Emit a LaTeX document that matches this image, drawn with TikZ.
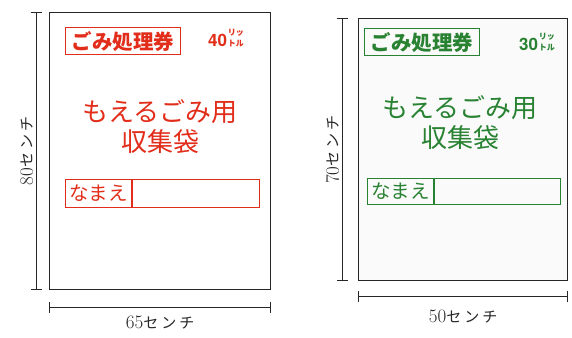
\documentclass[tikz,border=0pt]{standalone}
\usepackage{fontspec}
\newfontfamily\jp{Noto Sans CJK JP}
\newfontfamily\heros{TeX Gyre Heros}
\usetikzlibrary{arrows.meta}

\definecolor{tagred}{RGB}{225,45,25}
\definecolor{taggreen}{RGB}{40,130,50}

% 40 / 30 with the small stacked "litre"
\newcommand\literlabel[1]{{\heros\bfseries\fontsize{17}{17}\selectfont #1}\hspace{1pt}{\jp\bfseries\fontsize{8}{8}\selectfont\shortstack[l]{リッ\\トル}}}
% size label: serif digits, katakana unit
\newcommand\sizelabel[1]{{\fontsize{19}{19}\selectfont #1}{\jp\fontsize{15}{15}\selectfont セ\hspace{3pt}ン\hspace{3pt}チ}}

\begin{document}
\begin{tikzpicture}[x=1pt, y=-1pt,
	bag/.style={draw=black!85, line width=1.2pt, anchor=north west, inner sep=0pt},
	ticket/.style={draw, line width=1.2pt, anchor=north west, inner sep=0pt, minimum width=115pt, minimum height=27pt, font=\jp\bfseries\fontsize{20.5}{20.5}\selectfont},
	namecell/.style={draw, line width=1.2pt, anchor=north west, inner sep=0pt, font=\jp\fontsize{19.5}{19.5}\selectfont},
	title/.style={align=center, font=\jp\fontsize{26}{30}\selectfont},
	dim/.style={line width=0.9pt, black!85, {Bar[width=11pt]}-{Bar[width=11pt]}},
	dimlabel/.style={black!85, inner sep=2pt}]
	\useasboundingbox (0,0) rectangle (572,337);

	% 40 litre bag
	\node[bag, minimum width=221pt, minimum height=277pt] (bagA) at (49,12) {};
	\node[ticket, tagred] (ticketA) at (65,27) {ごみ処理券};
	\node[tagred] (literA) at (226,38) {\literlabel{40}};
	\node[title, tagred] (titleA) at (160,127) {もえるごみ用\\収集袋};
	\node[namecell, tagred, minimum width=66pt, minimum height=28pt] (nameA) at (65,179) {なまえ};
	\node[namecell, tagred, minimum width=127pt, minimum height=28pt] (blankA) at (nameA.north east) {};

	\draw[dim] ([xshift=-13pt]bagA.north west) -- ([xshift=-13pt]bagA.south west)
		node[midway, rotate=90, anchor=south, inner sep=6pt, dimlabel] {\sizelabel{80}};
	\draw[dim] ([yshift=-17pt]bagA.south west) -- ([yshift=-17pt]bagA.south east)
		node[midway, below=6pt, dimlabel] {\sizelabel{65}};

	% 30 litre bag
	\node[bag, fill=black!2, minimum width=209pt, minimum height=262pt] (bagB) at (358,18) {};
	\node[ticket, taggreen] (ticketB) at (364,28) {ごみ処理券};
	\node[taggreen] (literB) at (537,42) {\literlabel{30}};
	\node[title, taggreen] (titleB) at (460,123) {もえるごみ用\\収集袋};
	\node[namecell, taggreen, minimum width=66pt, minimum height=26pt] (nameB) at (367,178) {なまえ};
	\node[namecell, taggreen, minimum width=126pt, minimum height=26pt] (blankB) at (nameB.north east) {};

	\draw[dim] ([xshift=-16pt]bagB.north west) -- ([xshift=-16pt]bagB.south west)
		node[midway, rotate=90, anchor=south, inner sep=5pt, dimlabel] {\sizelabel{70}};
	\draw[dim] ([yshift=-15pt]bagB.south west) -- ([yshift=-15pt]bagB.south east)
		node[midway, below=11pt, dimlabel] {\sizelabel{50}};
\end{tikzpicture}
\end{document}
